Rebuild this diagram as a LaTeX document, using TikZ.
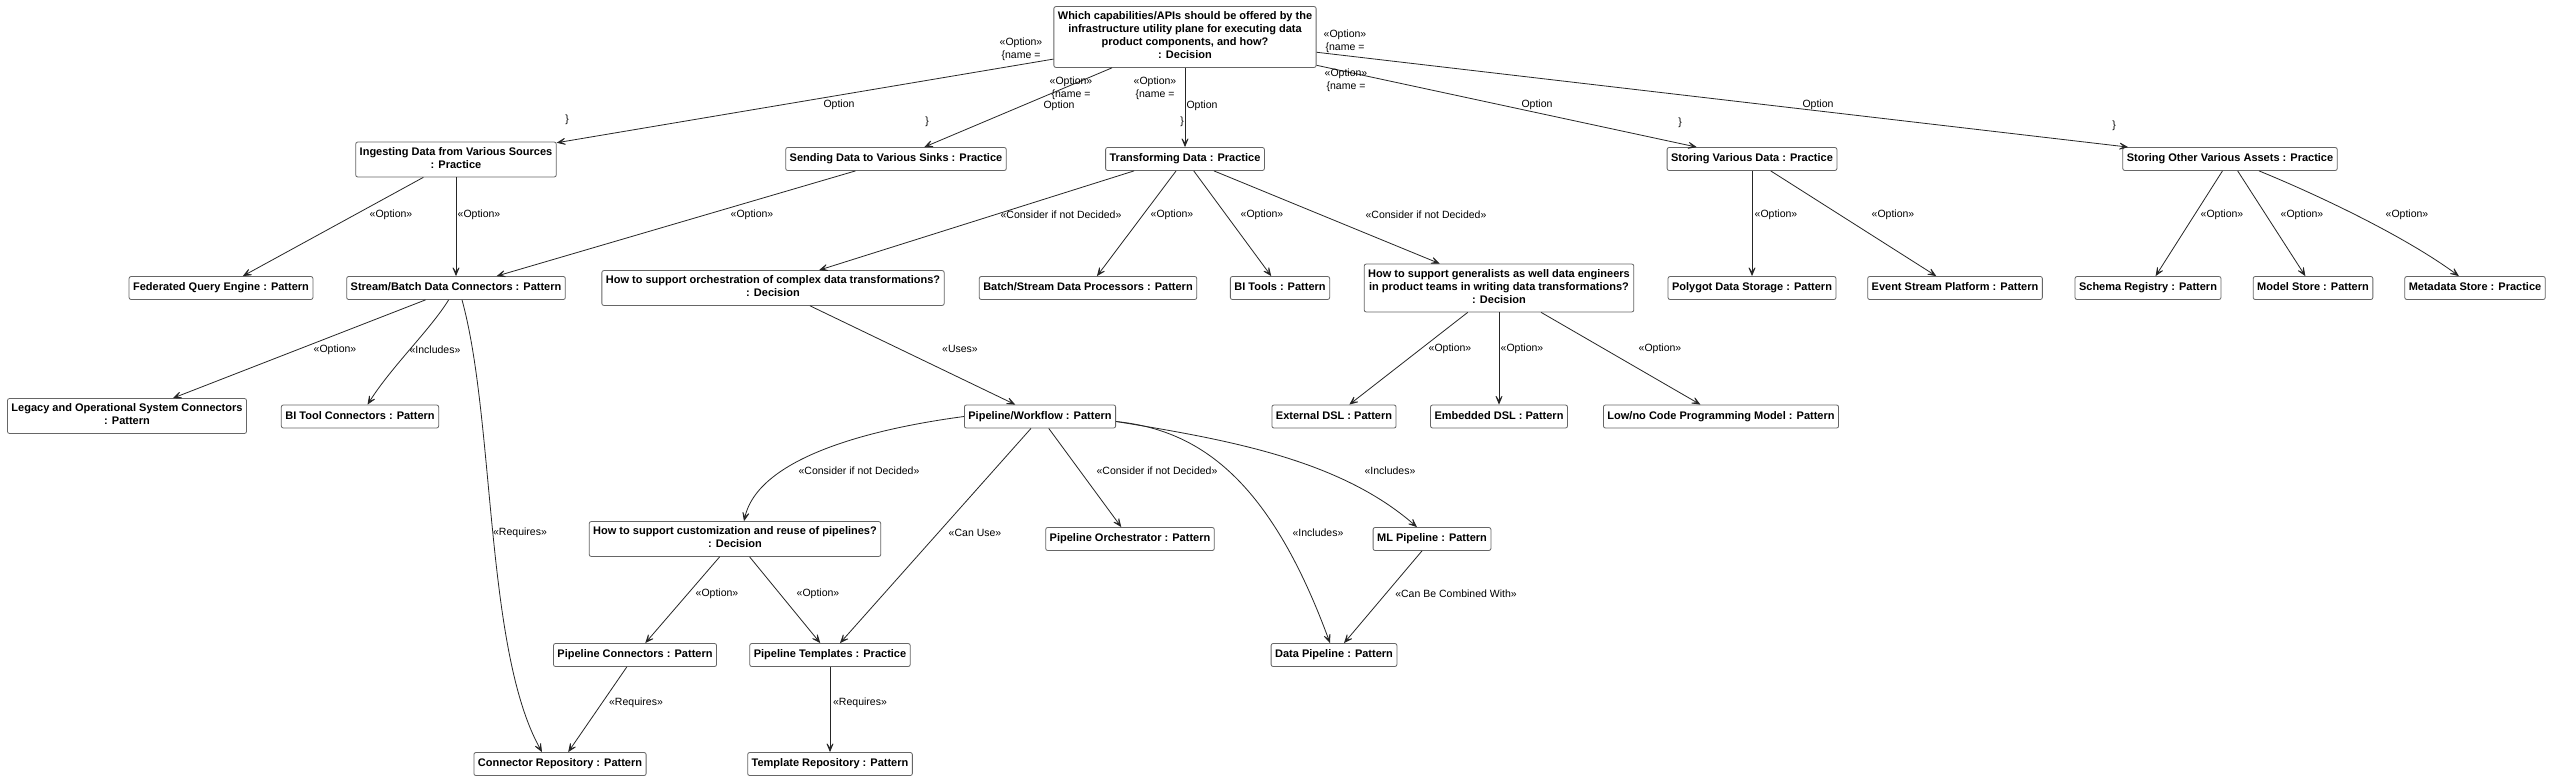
\documentclass[tikz,border=0pt]{standalone}
\usepackage{fontspec}
\setmainfont{Liberation Sans}
\usetikzlibrary{arrows.meta}
\begin{document}
\begin{tikzpicture}[x=1pt,y=-1pt,
  box/.style={draw=black!60, rounded corners=2pt, fill=white,
    font=\fontsize{11}{13}\selectfont\bfseries, align=center,
    inner xsep=4pt, inner ysep=5pt, line width=0.8pt,
    execute at begin node={\strut}, execute at end node={\strut}},
  lbl/.style={font=\fontsize{10.5}{13}\selectfont, inner sep=0pt, align=center},
  arr/.style={draw=black!85, line width=0.8pt,
    -{Stealth[length=12pt,width=10pt,inset=7.5pt]}},
]
\useasboundingbox[fill=white] (0,0) rectangle (2550,780);

% nodes
\node[box] (top) at (1185,37) {Which capabilities/APIs should be offered by the\\infrastructure utility plane for executing data\\product components, and how?\\: Decision};
\node[box] (ing) at (456,159.5) {Ingesting Data from Various Sources\\: Practice};
\node[box] (send) at (896,159) {Sending Data to Various Sinks : Practice};
\node[box] (trans) at (1185,159) {Transforming Data : Practice};
\node[box] (sto) at (1752,159) {Storing Various Data : Practice};
\node[box] (stoo) at (2230,159) {Storing Other Various Assets : Practice};
\node[box] (fed) at (221,288) {Federated Query Engine : Pattern};
\node[box] (sb) at (456,288) {Stream/Batch Data Connectors : Pattern};
\node[box] (orch) at (773,288) {How to support orchestration of complex data transformations?\\: Decision};
\node[box] (bsp) at (1088,288) {Batch/Stream Data Processors : Pattern};
\node[box] (bit) at (1280,288) {BI Tools : Pattern};
\node[box] (gen) at (1499,288) {How to support generalists as well data engineers\\in product teams in writing data transformations?\\: Decision};
\node[box] (poly) at (1752,288) {Polygot Data Storage : Pattern};
\node[box] (esp) at (1955,288) {Event Stream Platform : Pattern};
\node[box] (schema) at (2148,288) {Schema Registry : Pattern};
\node[box] (model) at (2313,288) {Model Store : Pattern};
\node[box] (meta) at (2475,288) {Metadata Store : Practice};
\node[box] (legacy) at (127,416) {Legacy and Operational System Connectors\\: Pattern};
\node[box] (bitc) at (360,416.5) {BI Tool Connectors : Pattern};
\node[box] (pw) at (1040,416.5) {Pipeline/Workflow : Pattern};
\node[box] (ext) at (1334,416.5) {External DSL : Pattern};
\node[box] (emb) at (1499,416.5) {Embedded DSL : Pattern};
\node[box] (low) at (1721,416.5) {Low/no Code Programming Model : Pattern};
\node[box] (cust) at (735,539) {How to support customization and reuse of pipelines?\\: Decision};
\node[box] (porch) at (1130,539) {Pipeline Orchestrator : Pattern};
\node[box] (ml) at (1432,539) {ML Pipeline : Pattern};
\node[box] (pc) at (635,655) {Pipeline Connectors : Pattern};
\node[box] (pt) at (830,655) {Pipeline Templates : Practice};
\node[box] (dp) at (1334,655) {Data Pipeline : Pattern};
\node[box] (cr) at (560,764) {Connector Repository : Pattern};
\node[box] (tr) at (830,764) {Template Repository : Pattern};

% connectors
\draw[arr] (top) -- (ing);
\draw[arr] (top) -- (send);
\draw[arr] (top) -- (trans);
\draw[arr] (top) -- (sto);
\draw[arr] (top) -- (stoo);
\draw[arr] (ing) -- (fed);
\draw[arr] (ing) -- (sb);
\draw[arr] (send) -- (sb);
\draw[arr] ([xshift=-51]trans.south) -- ([xshift=46]orch.north);
\draw[arr] (trans) -- (bsp);
\draw[arr] (trans) -- (bit);
\draw[arr] (trans) -- (gen);
\draw[arr] (sto) -- (poly);
\draw[arr] (sto) -- (esp);
\draw[arr] (stoo) -- (schema);
\draw[arr] (stoo) -- (model);
\draw[arr] (stoo) .. controls (2330,200) and (2410,240) .. (meta);
\draw[arr] (sb) -- (legacy);
\draw[arr] (sb) .. controls (430,330) and (392,366) .. (bitc);
\draw[arr] ([xshift=6]sb.south) .. controls (495,420) and (485,650) .. ([xshift=-18]cr.north);
\draw[arr] (orch) -- (pw);
\draw[arr] (gen) -- (ext);
\draw[arr] (gen) -- (emb);
\draw[arr] (gen) -- (low);
\draw[arr] (pw.west) .. controls (900,425) and (760,450) .. ([xshift=9]cust.north);
\draw[arr] ([xshift=-9]pw.south) -- ([xshift=10]pt.north);
\draw[arr] (pw) -- (porch);
\draw[arr] ([yshift=-5]pw.east) .. controls (1200,430) and (1270,480) .. ([xshift=-4]dp.north);
\draw[arr] ([yshift=-5]pw.east) .. controls (1230,440) and (1340,460) .. ([xshift=-15]ml.north);
\draw[arr] (ml) -- (dp);
\draw[arr] (cust) -- (pc);
\draw[arr] (cust) -- (pt);
\draw[arr] (pc) -- (cr);
\draw[arr] (pt) -- (tr);

% labels of the top decision's connectors
\node[lbl] (l1a) at (1021,49) {«Option»\\\{name =};
\node[lbl] (l1b) at (839,105) {Option};
\node[lbl] (l1c) at (567,120) {\}};
\node[lbl] (l2a) at (1071,88.5) {«Option»\\\{name =};
\node[lbl] (l2b) at (1059,106) {Option};
\node[lbl] (l2c) at (927,122) {\}};
\node[lbl] (l3a) at (1155,88.5) {«Option»\\\{name =};
\node[lbl] (l3b) at (1202,106) {Option};
\node[lbl] (l3c) at (1182,122) {\}};
\node[lbl] (l4a) at (1346,80.5) {«Option»\\\{name =};
\node[lbl] (l4b) at (1537,105) {Option};
\node[lbl] (l4c) at (1680,123) {\}};
\node[lbl] (l5a) at (1345,41.5) {«Option»\\\{name =};
\node[lbl] (l5b) at (1818,105) {Option};
\node[lbl] (l5c) at (2114,126) {\}};

% other labels
\node[lbl] at (391,215) {«Option»};
\node[lbl] at (479,215) {«Option»};
\node[lbl] at (752,215) {«Option»};
\node[lbl] at (1061,215) {«Consider if not Decided»};
\node[lbl] at (1172,215) {«Option»};
\node[lbl] at (1262,215) {«Option»};
\node[lbl] at (1426,215) {«Consider if not Decided»};
\node[lbl] at (1776,215) {«Option»};
\node[lbl] at (1893,215) {«Option»};
\node[lbl] at (2222,215) {«Option»};
\node[lbl] at (2302,215) {«Option»};
\node[lbl] at (2407,215) {«Option»};

\node[lbl] at (335,350) {«Option»};
\node[lbl] at (435,350) {«Includes»};
\node[lbl] at (960,349) {«Uses»};
\node[lbl] at (1450,349) {«Option»};
\node[lbl] at (1522,349) {«Option»};
\node[lbl] at (1660,349) {«Option»};

\node[lbl] at (859,471) {«Consider if not Decided»};
\node[lbl] at (1157,471) {«Consider if not Decided»};
\node[lbl] at (1390,471) {«Includes»};

\node[lbl] at (520,533) {«Requires»};
\node[lbl] at (975,533) {«Can Use»};
\node[lbl] at (1318,533) {«Includes»};

\node[lbl] at (717,594) {«Option»};
\node[lbl] at (818,594) {«Option»};
\node[lbl] at (1456,594) {«Can Be Combined With»};

\node[lbl] at (636,703) {«Requires»};
\node[lbl] at (860,703) {«Requires»};
\end{tikzpicture}
\end{document}
